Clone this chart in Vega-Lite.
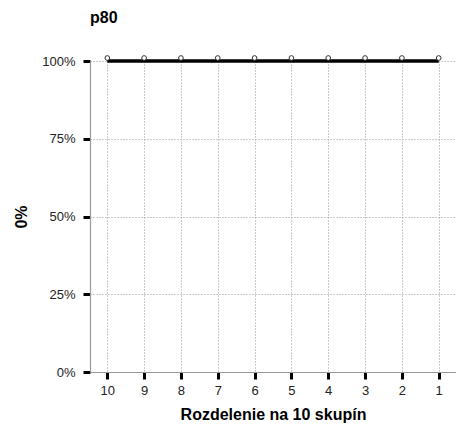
{
  "$schema": "https://vega.github.io/schema/vega-lite/v6.json",
  "width": 366,
  "height": 311,
  "autosize": {"type": "none"},
  "padding": {"left": 90, "top": 61, "right": 0, "bottom": 58},
  "background": "white",
  "title": {"text": "p80", "anchor": "start", "frame": "group", "font": "Liberation Sans", "fontSize": 16, "fontWeight": "bold", "offset": 28, "color": "black"},
  "config": {
    "view": {"stroke": null},
    "axis": {"labelFont": "Liberation Sans", "titleFont": "Liberation Sans", "labelFontSize": 13, "labelColor": "#222", "titleFontSize": 16, "titleFontWeight": "bold", "titleColor": "black", "domainColor": "#999", "domainWidth": 1.2, "tickColor": "black", "tickWidth": 3, "tickSize": 7, "gridColor": "#999", "gridDash": [1, 2], "gridWidth": 1}
  },
  "data": {"values": [
    {"group": "10", "value": 1},
    {"group": "9", "value": 1},
    {"group": "8", "value": 1},
    {"group": "7", "value": 1},
    {"group": "6", "value": 1},
    {"group": "5", "value": 1},
    {"group": "4", "value": 1},
    {"group": "3", "value": 1},
    {"group": "2", "value": 1},
    {"group": "1", "value": 1}
  ]},
  "encoding": {
    "x": {"field": "group", "type": "ordinal", "sort": null, "scale": {"type": "point", "padding": 0.47},
      "axis": {"title": "Rozdelenie na 10 skupín", "labelAngle": 0, "labelPadding": 5, "titlePadding": 9, "grid": true}},
    "y": {"field": "value", "type": "quantitative", "scale": {"domain": [0, 1]},
      "axis": {"title": "0%", "format": ".0%", "values": [0, 0.25, 0.5, 0.75, 1], "labelPadding": 8, "titlePadding": 12, "grid": true}}
  },
  "layer": [
    {"mark": {"type": "line", "color": "black", "strokeWidth": 3.5, "clip": false}},
    {"mark": {"type": "point", "shape": "circle", "filled": false, "size": 22, "color": "#333", "strokeWidth": 1, "yOffset": -3, "clip": false, "fill": "white", "fillOpacity": 1}}
  ]
}
